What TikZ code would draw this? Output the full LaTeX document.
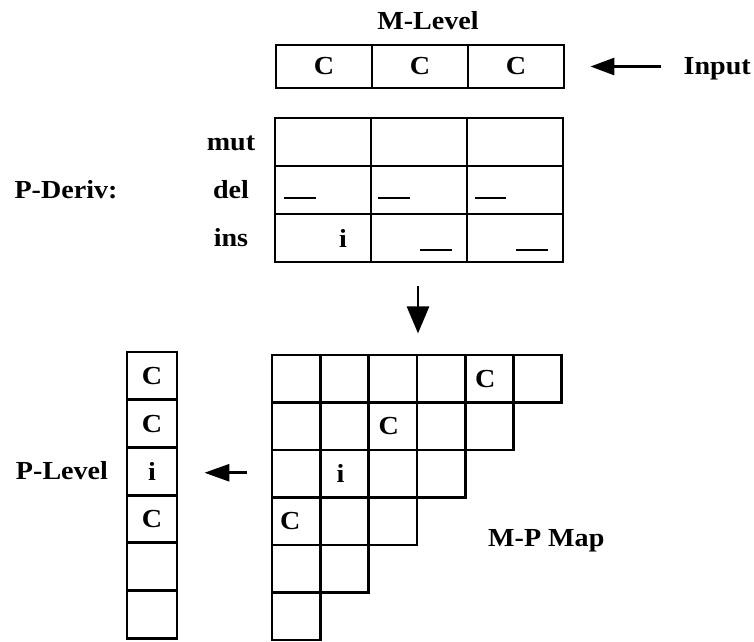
\documentclass[tikz,border=0pt]{standalone}
\usepackage{fontspec}
\setmainfont{Liberation Serif}[FakeStretch=1.08]
\usetikzlibrary{arrows.meta}
\begin{document}
\begin{tikzpicture}[x=1pt,y=-1pt,
  txt/.style={font=\bfseries\fontsize{26}{28}\selectfont, inner sep=0pt},
  cellbox/.style={draw, line width=2.8pt, inner sep=0pt, font=\bfseries\fontsize{26}{28}\selectfont},
  mcell/.style={cellbox, minimum width=96pt, minimum height=43pt},
  dcell/.style={cellbox, minimum width=96pt, minimum height=48pt},
  gcell/.style={cellbox, minimum width=48.3pt, minimum height=47.5pt},
  pcell/.style={cellbox, minimum width=50pt, minimum height=47.7pt},
  dashline/.style={line width=2.6pt},
  conn/.style={line width=2.8pt}]
\useasboundingbox (0,0) rectangle (754,641);

% M-Level
\node[txt, anchor=base] (mtitle) at (428,29) {M-Level};
\node[mcell] (m1) at (324,66.5) {C};
\node[mcell] (m2) at (420,66.5) {C};
\node[mcell] (m3) at (516,66.5) {C};
\node[txt, anchor=base east] (input) at (751,74) {Input};
\path (input.west |- m3.east) ++(-22,0) coordinate (intail);
\path (m3.east) ++(25,0) coordinate (intip);
\draw[conn, -{Triangle[length=24pt,width=17pt]}] (intail) -- (intip);

% P-Deriv
\node[txt, anchor=base] (pderiv) at (66,198) {P-Deriv:};
\node[txt, anchor=base] (lmut) at (231,150) {mut};
\node[txt, anchor=base] (ldel) at (231,198) {del};
\node[txt, anchor=base] (lins) at (231,246) {ins};
\foreach \c/\x in {1/323,2/419,3/515}{
  \node[dcell] (p1\c) at (\x,142) {};
  \node[dcell] (p2\c) at (\x,190) {};
  \node[dcell] (p3\c) at (\x,238) {};
}
\draw[dashline] ([xshift=10pt,yshift=-8pt]p21.west) -- ++(32,0);
\draw[dashline] ([xshift=8pt,yshift=-8pt]p22.west) -- ++(32,0);
\draw[dashline] ([xshift=9pt,yshift=-8pt]p23.west) -- ++(31,0);
\draw[dashline] ([xshift=-16pt,yshift=-12pt]p32.east) -- ++(-32,0);
\draw[dashline] ([xshift=-16pt,yshift=-12pt]p33.east) -- ++(-32,0);
\node[txt] (pi) at (343,238) {i};

% down arrow
\path (p32.south) ++(-1,23) coordinate (dtail) ++(0,47) coordinate (dtip);
\draw[conn, -{Triangle[length=27pt,width=22pt]}] (dtail) -- (dtip);

% M-P Map grid
\foreach \r in {0,...,5}{
  \pgfmathtruncatemacro{\last}{5-\r}
  \foreach \c in {0,...,\last}{
    \node[gcell] (g\r\c) at ({272+48.3*(\c+0.5)},{355+47.5*(\r+0.5)}) {};
  }
}
\node[txt] at ([xshift=-4pt]g04.center) {C};
\node[txt] at ([xshift=-4pt]g12.center) {C};
\node[txt] at ([xshift=-4pt]g21.center) {i};
\node[txt] at ([xshift=-6pt]g30.center) {C};
\node[txt, anchor=base west] (mpmap) at (488,546) {M-P Map};

% P-Level
\foreach \k/\t in {0/C,1/C,2/i,3/C,4/{},5/{}}{
  \node[pcell] (pl\k) at (152,{352+47.7*(\k+0.5)}) {\t};
}
\node[txt, anchor=base] (plevel) at (62,479) {P-Level};
\path (g20.west) ++(-24,-1) coordinate (ltail);
\path (pl2.east |- ltail) ++(26,0) coordinate (ltip);
\draw[conn, -{Triangle[length=25pt,width=17pt]}] (ltail) -- (ltip);
\end{tikzpicture}
\end{document}
